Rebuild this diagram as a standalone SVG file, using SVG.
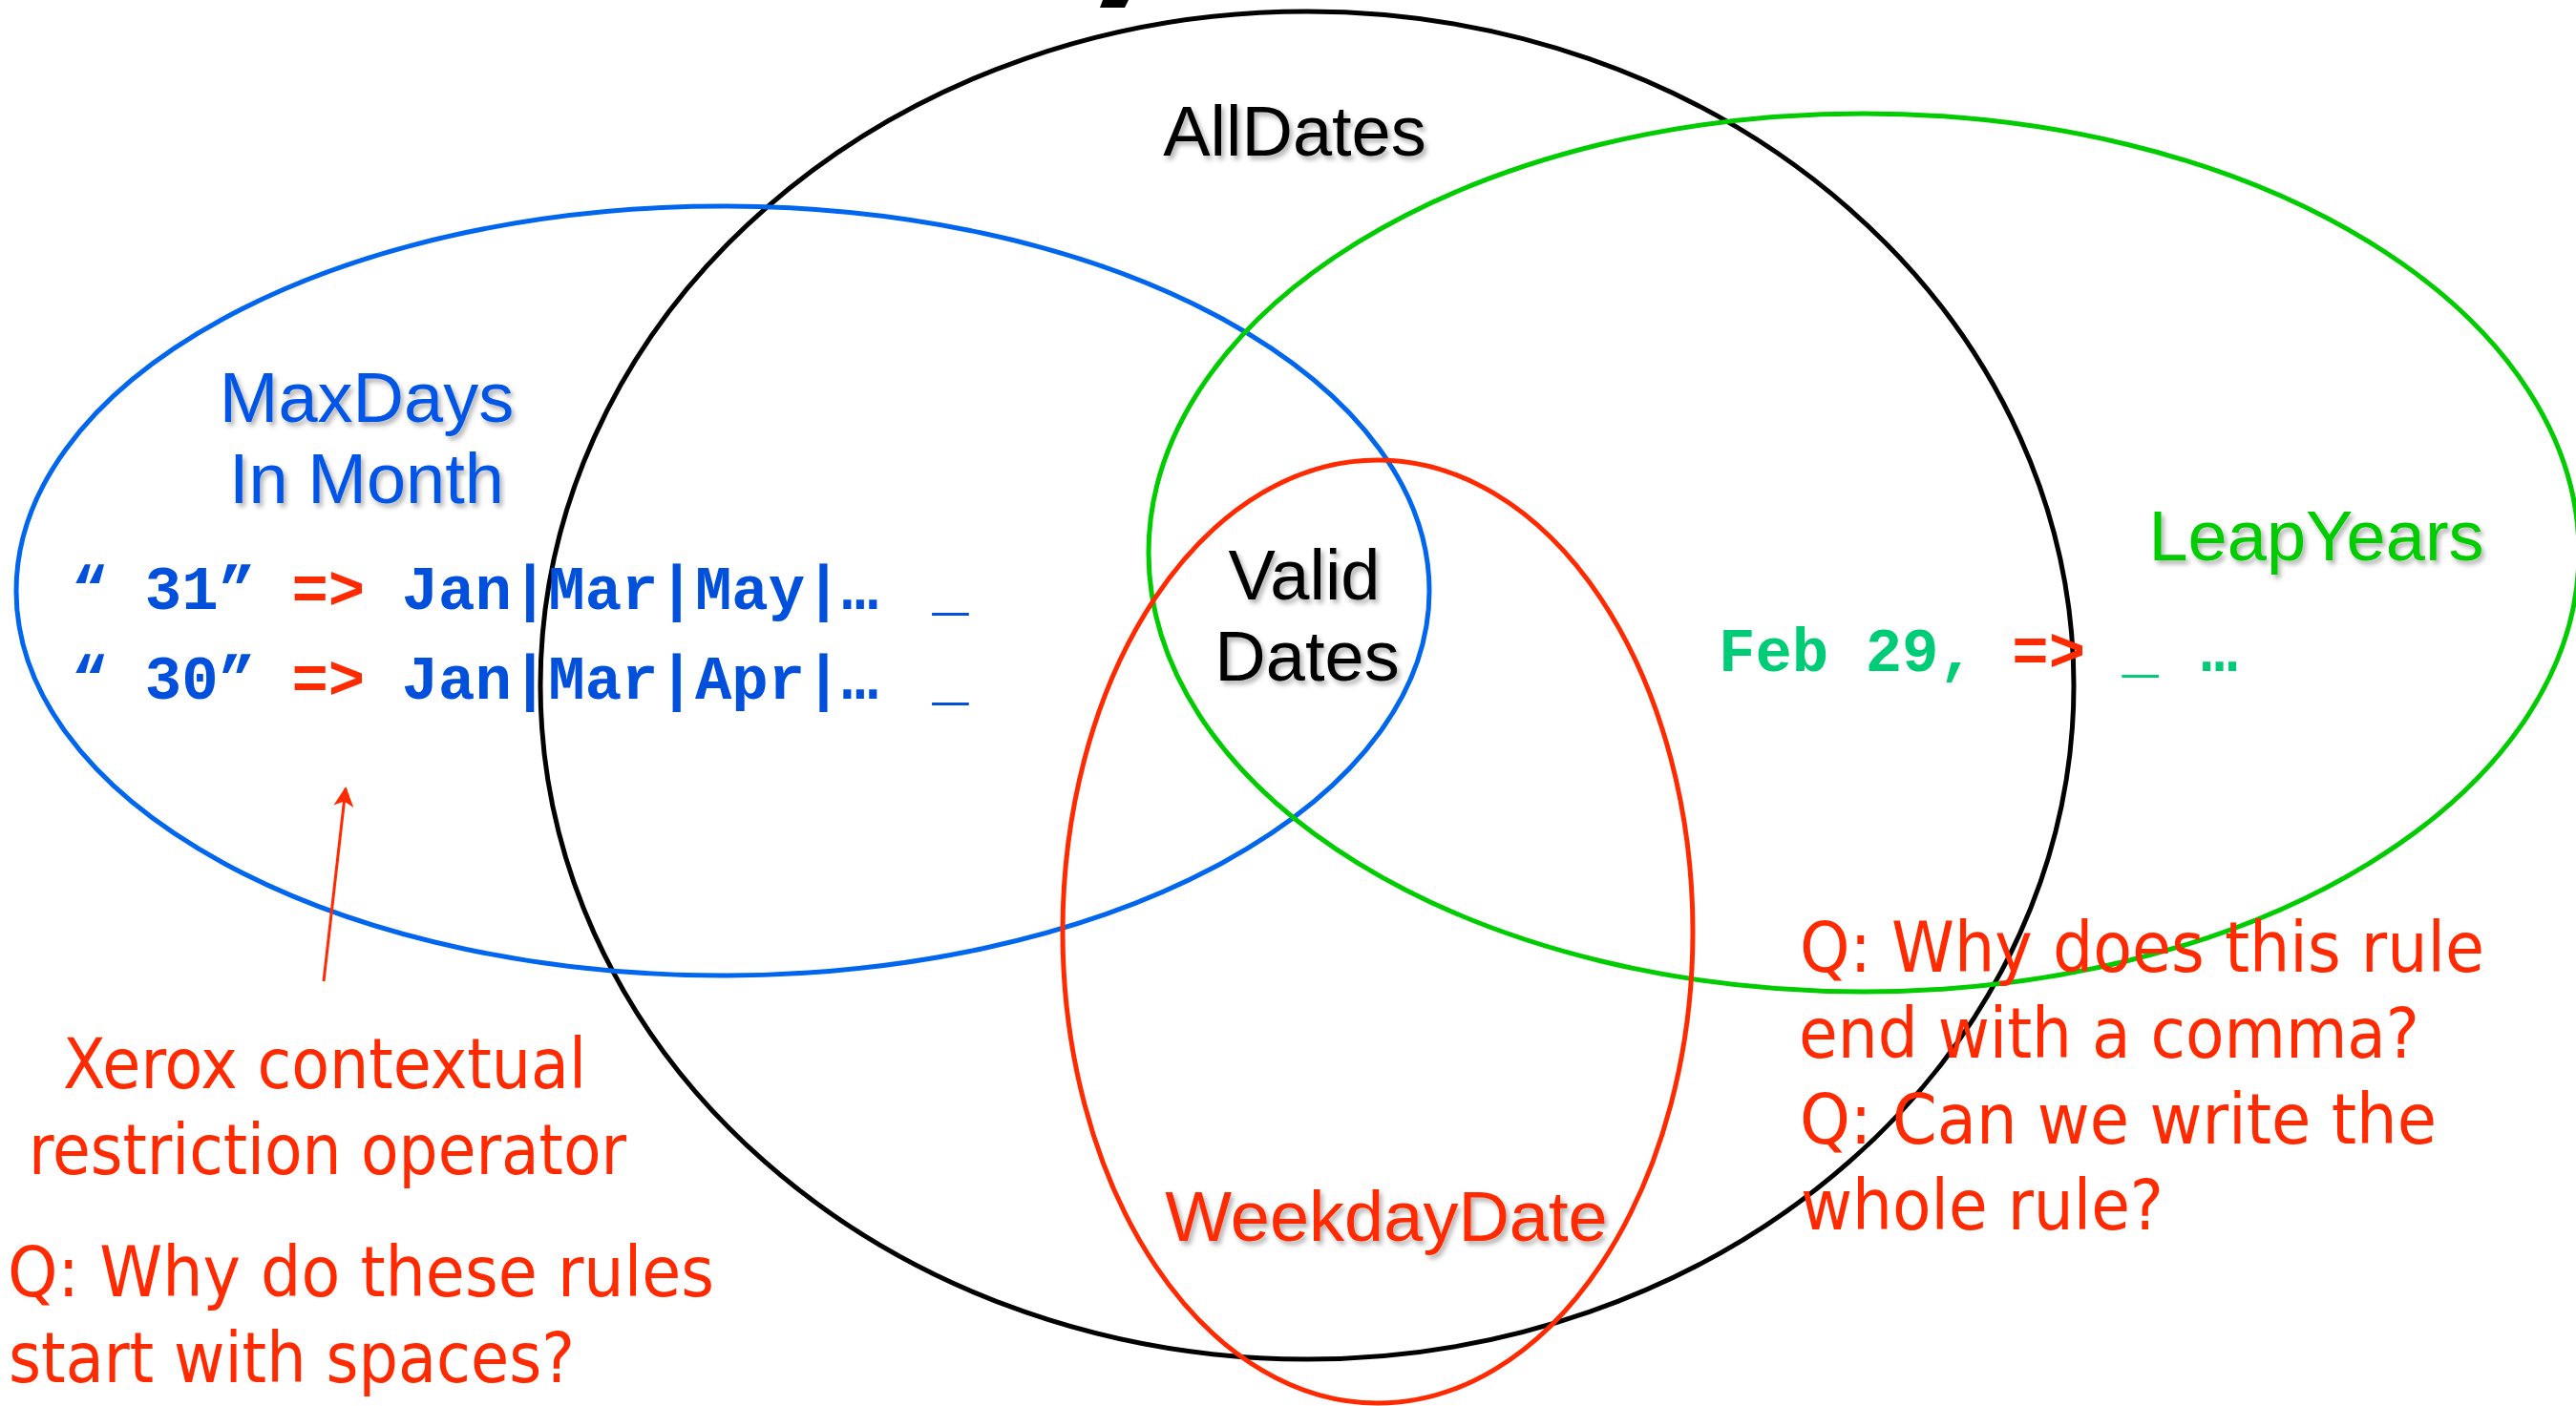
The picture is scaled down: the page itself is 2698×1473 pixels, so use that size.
<svg xmlns="http://www.w3.org/2000/svg" width="2698" height="1473" viewBox="0 0 2698 1473">
  <style>
    .set { fill: none; }
    .lbl { font-family: "Liberation Sans", Arial, sans-serif; font-size: 74px; text-anchor: middle; }
    .code { font-family: "Liberation Mono", "Courier New", monospace; font-size: 64px; font-weight: bold; }
    .note { font-family: "DejaVu Sans Condensed", "DejaVu Sans", sans-serif; font-stretch: condensed; font-size: 73px; fill: #ff2a00; }
    .red { fill: #ff2a00; }
  </style>
  <defs>
    <filter id="sh" x="-10%" y="-20%" width="130%" height="150%">
      <feDropShadow dx="3" dy="4" stdDeviation="2.5" flood-color="#000" flood-opacity="0.3"/>
    </filter>
    <marker id="arr" viewBox="0 0 10 10" refX="9" refY="5" markerWidth="7" markerHeight="7" orient="auto" markerUnits="strokeWidth">
      <path d="M0,0 L10,5 L0,10 L2.5,5 Z" fill="#ff2a00"/>
    </marker>
  </defs>
  <rect width="2698" height="1473" fill="#ffffff"/>

  <!-- fragment of a cut-off title at the very top -->
  <polygon points="1155,0 1182,0 1178,8 1152,8" fill="#000"/>

  <g id="allDates">
    <ellipse class="set" cx="1369" cy="718" rx="803" ry="706" stroke="#000" stroke-width="5"/>
    <text class="lbl" x="1356" y="163" fill="#000" filter="url(#sh)">AllDates</text>
  </g>

  <g id="maxDaysInMonth">
    <ellipse class="set" cx="757" cy="619" rx="740" ry="403" stroke="#0066ee" stroke-width="5"/>
    <text class="lbl" x="384" y="442" fill="#0055e6" filter="url(#sh)">MaxDays</text>
    <text class="lbl" x="384" y="527" fill="#0055e6" filter="url(#sh)">In Month</text>
    <text class="code" x="75" y="638" fill="#0050dc">“ 31” <tspan class="red">=&gt;</tspan> Jan|Mar|May|… <tspan dx="18">_</tspan></text>
    <text class="code" x="75" y="732" fill="#0050dc">“ 30” <tspan class="red">=&gt;</tspan> Jan|Mar|Apr|… <tspan dx="18">_</tspan></text>
  </g>

  <g id="leapYears">
    <ellipse class="set" cx="1952" cy="579" rx="749" ry="460" stroke="#00cc00" stroke-width="5"/>
    <text class="lbl" x="2426" y="587" fill="#00cc00" filter="url(#sh)">LeapYears</text>
    <text class="code" x="1800" y="703" fill="#00cc77">Feb 29, <tspan class="red">=&gt;</tspan> _ <tspan dx="6">…</tspan></text>
  </g>

  <g id="weekdayDate">
    <ellipse class="set" cx="1443" cy="976" rx="330" ry="494" stroke="#ff2a00" stroke-width="5"/>
    <text class="lbl" x="1452" y="1300" fill="#ff2a00" filter="url(#sh)">WeekdayDate</text>
  </g>

  <g id="validDates">
    <text class="lbl" x="1366" y="628" fill="#000" filter="url(#sh)">Valid</text>
    <text class="lbl" x="1369" y="713" fill="#000" filter="url(#sh)">Dates</text>
  </g>

  <g id="connectors">
    <line x1="339" y1="1028" x2="362" y2="826" stroke="#ff2a00" stroke-width="3" marker-end="url(#arr)"/>
  </g>

  <g id="noteLeft">
    <text class="note" x="66" y="1140" textLength="548" lengthAdjust="spacingAndGlyphs">Xerox contextual</text>
    <text class="note" x="30" y="1230" textLength="626" lengthAdjust="spacingAndGlyphs">restriction operator</text>
    <text class="note" x="8" y="1358" textLength="740" lengthAdjust="spacingAndGlyphs">Q: Why do these rules</text>
    <text class="note" x="9" y="1448" textLength="593" lengthAdjust="spacingAndGlyphs">start with spaces?</text>
  </g>

  <g id="noteRight">
    <text class="note" x="1885" y="1018" textLength="717" lengthAdjust="spacingAndGlyphs">Q: Why does this rule</text>
    <text class="note" x="1884" y="1108" textLength="650" lengthAdjust="spacingAndGlyphs">end with a comma?</text>
    <text class="note" x="1885" y="1198" textLength="667" lengthAdjust="spacingAndGlyphs">Q: Can we write the</text>
    <text class="note" x="1886" y="1288" textLength="380" lengthAdjust="spacingAndGlyphs">whole rule?</text>
  </g>
</svg>
